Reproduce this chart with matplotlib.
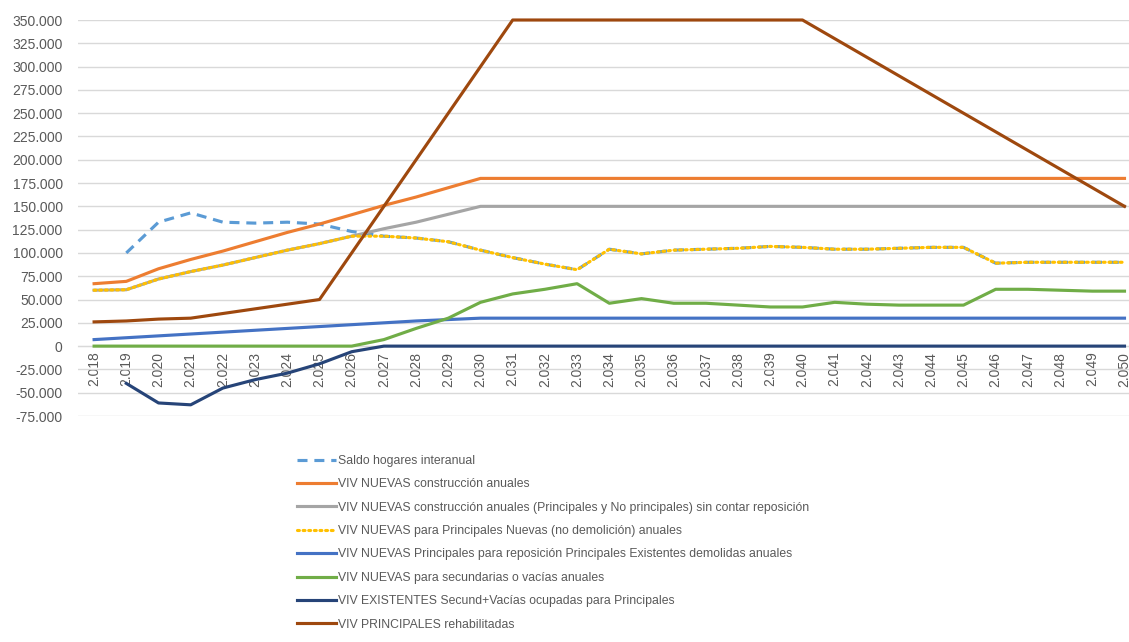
import numpy as np
import matplotlib

matplotlib.use("Agg")
import matplotlib.pyplot as plt
from matplotlib.ticker import FuncFormatter

plt.rcParams["font.family"] = ["Liberation Sans", "DejaVu Sans"]

nan = np.nan
years = list(range(2018, 2051))

saldo_hogares = [nan, 100000, 133000, 143000, 133000, 132000, 133000, 131000, 123000,
                 118000, 116000, 112000, 103000, 95000, 88000, 82000, 104000, 99000,
                 103000, 104000, 105000, 107000, 106000, 104000, 104000, 105000, 106000,
                 106000, 89000, 90000, 90000, 90000, 90000]
nuevas_construccion = [67000, 69500, 83000, 93000, 102000, 112000, 122000, 131000, 141000,
                       151000, 160000, 170000, 180000, 180000, 180000, 180000, 180000, 180000,
                       180000, 180000, 180000, 180000, 180000, 180000, 180000, 180000, 180000,
                       180000, 180000, 180000, 180000, 180000, 180000]
nuevas_sin_reposicion = [60000, 60500, 72000, 80000, 87000, 95000, 103000, 110000, 118000,
                         126000, 133000, 141500, 150000, 150000, 150000, 150000, 150000, 150000,
                         150000, 150000, 150000, 150000, 150000, 150000, 150000, 150000, 150000,
                         150000, 150000, 150000, 150000, 150000, 150000]
nuevas_principales = [60000, 60500, 72000, 80000, 87000, 95000, 103000, 110000, 118000,
                      118000, 116000, 112000, 103000, 95000, 88000, 82000, 104000, 99000,
                      103000, 104000, 105000, 107000, 106000, 104000, 104000, 105000, 106000,
                      106000, 89000, 90000, 90000, 90000, 90000]
nuevas_reposicion = [7000, 9000, 11000, 13000, 15000, 17000, 19000, 21000, 23000,
                     25000, 27000, 28500, 30000, 30000, 30000, 30000, 30000, 30000,
                     30000, 30000, 30000, 30000, 30000, 30000, 30000, 30000, 30000,
                     30000, 30000, 30000, 30000, 30000, 30000]
nuevas_secundarias = [0, 0, 0, 0, 0, 0, 0, 0, 0,
                      7000, 19000, 30000, 47000, 56000, 61000, 67000, 46000, 51000,
                      46000, 46000, 44000, 42000, 42000, 47000, 45000, 44000, 44000,
                      44000, 61000, 61000, 60000, 59000, 59000]
existentes_ocupadas = [nan, -40000, -61000, -63000, -45000, -36000, -29000, -19000, -6000,
                       0, 0, 0, 0, 0, 0, 0, 0, 0,
                       0, 0, 0, 0, 0, 0, 0, 0, 0,
                       0, 0, 0, 0, 0, 0]
rehabilitadas = [26000, 27000, 29000, 30000, 35000, 40000, 45000, 50000, 100000,
                 150000, 200000, 250000, 300000, 350000, 350000, 350000, 350000, 350000,
                 350000, 350000, 350000, 350000, 350000, 330000, 310000, 290000, 270000,
                 250000, 230000, 210000, 190000, 170000, 150000]

series = [
    ("Saldo hogares interanual", saldo_hogares, "#5B9BD5", (0, (3.2, 2.2))),
    ("VIV NUEVAS construcción anuales", nuevas_construccion, "#ED7D31", "-"),
    ("VIV NUEVAS construcción anuales (Principales y No principales) sin contar reposición",
     nuevas_sin_reposicion, "#A5A5A5", "-"),
    ("VIV NUEVAS para Principales Nuevas (no demolición) anuales", nuevas_principales,
     "#FFC000", (0, (0.6, 1.2))),
    ("VIV NUEVAS Principales para reposición Principales Existentes demolidas anuales",
     nuevas_reposicion, "#4472C4", "-"),
    ("VIV NUEVAS para secundarias o vacías anuales", nuevas_secundarias, "#70AD47", "-"),
    ("VIV EXISTENTES Secund+Vacías ocupadas para Principales", existentes_ocupadas,
     "#264478", "-"),
    ("VIV PRINCIPALES rehabilitadas", rehabilitadas, "#9E480E", "-"),
]

text_color = "#595959"
grid_color = "#D9D9D9"

fig = plt.figure(figsize=(11.29, 6.42), dpi=100)
ax = fig.add_axes([78 / 1129, 1 - 416 / 642, 1 - 78 / 1129, (416 - 20) / 642])

for label, values, color, ls in series:
    line, = ax.plot(years, values, color=color, lw=2.25, linestyle=ls, label=label,
                    solid_joinstyle="round", clip_on=False, zorder=3)
    if ls != "-":
        line.set_dash_capstyle("butt" if label.startswith("Saldo") else "round")

ax.set_xlim(2017.5, 2050.14)
ax.set_ylim(-75000, 350000)
ax.set_yticks(np.arange(-75000, 350001, 25000))
ax.set_xticks(years)

thousands = FuncFormatter(lambda v, pos: f"{v:,.0f}".replace(",", "."))
ax.yaxis.set_major_formatter(thousands)
ax.xaxis.set_major_formatter(thousands)

ax.grid(axis="y", color=grid_color, lw=1)
ax.set_axisbelow(True)
for side in ["top", "right", "left"]:
    ax.spines[side].set_visible(False)
ax.spines["bottom"].set_position(("data", 0))
ax.spines["bottom"].set_color(grid_color)
ax.spines["bottom"].set_zorder(1)

ax.tick_params(axis="y", length=0, pad=11, labelsize=10, labelcolor=text_color)
ax.tick_params(axis="x", length=0, pad=4, labelsize=10, labelcolor=text_color,
               labelrotation=90)

fig.legend(loc="upper left", bbox_to_anchor=(297 / 1129, 1 - 455 / 642), frameon=False,
           fontsize=8.8, labelcolor=text_color, handlelength=3.2, handletextpad=0.15,
           labelspacing=0.93, borderaxespad=0, borderpad=0)

fig.savefig("out.png", dpi=100)
